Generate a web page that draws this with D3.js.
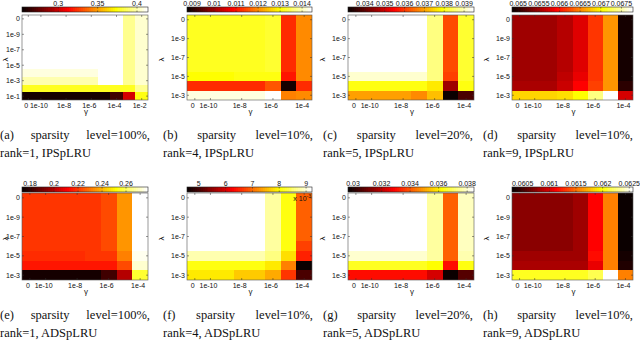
<!DOCTYPE html>
<html>
<head>
<meta charset="utf-8">
<script src="https://cdn.jsdelivr.net/npm/d3@7"></script>
<style>
body { margin: 0; background: #fff; }
svg { display: block; }
.lbl { font-family: "Liberation Sans", Arial, sans-serif; font-size: 7px; fill: #111; }
.cap { font-family: "Liberation Serif", "Times New Roman", serif; font-size: 12.5px; fill: #111; }
</style>
</head>
<body>
<svg id="chart" width="640" height="344"></svg>
<script>
// categories (gamma along x, lambda along y)
var gammaLong = ["0", "1e-10", "1e-9", "1e-8", "1e-7", "1e-6", "1e-5", "1e-4", "1e-3", "1e-2"];
var gammaShort = ["0", "1e-10", "1e-9", "1e-8", "1e-7", "1e-6", "1e-5", "1e-4"];
var lambdaLong = ["0", "1e-10", "1e-9", "1e-8", "1e-7", "1e-6", "1e-5", "1e-4", "1e-3", "1e-2", "1e-1"];
var lambdaShort = ["0", "1e-10", "1e-9", "1e-8", "1e-7", "1e-6", "1e-5", "1e-4", "1e-3"];

// tick labels
var xTicksLong = ["0", "1e-10", "1e-8", "1e-6", "1e-4", "1e-2"];
var xTicksShort = ["0", "1e-10", "1e-8", "1e-6", "1e-4"];
var yTicksLong = ["0", "1e-9", "1e-7", "1e-5", "1e-3", "1e-1"];
var yTicksShort = ["0", "1e-9", "1e-7", "1e-5", "1e-3"];

// colour limits and colourbar ticks
var climA = [0.254, 0.414], cbTicksA = [0.3, 0.35, 0.4];
var climB = [0.00877, 0.01445], cbTicksB = [0.009, 0.01, 0.011, 0.012, 0.013, 0.014];
var climC = [0.03315, 0.0395], cbTicksC = [0.034, 0.035, 0.036, 0.037, 0.038, 0.039];
var climD = [0.06485, 0.06778], cbTicksD = [0.065, 0.0655, 0.066, 0.0665, 0.067, 0.0675];
var climE = [0.1733, 0.2783], cbTicksE = [0.18, 0.2, 0.22, 0.24, 0.26];
var climF = [0.00456, 0.00922], cbTicksF = [0.005, 0.006, 0.007, 0.008, 0.009];
var climG = [0.02965, 0.03848], cbTicksG = [0.03, 0.032, 0.034, 0.036, 0.038];
var climH = [0.0603, 0.06257], cbTicksH = [0.0605, 0.061, 0.0615, 0.062, 0.0625];

// values, one row per lambda, one column per gamma
var valsA = [
  [0.414, 0.414, 0.414, 0.414, 0.414, 0.414, 0.414, 0.414, 0.395, 0.406],
  [0.414, 0.414, 0.414, 0.414, 0.414, 0.414, 0.414, 0.414, 0.395, 0.406],
  [0.414, 0.414, 0.414, 0.414, 0.414, 0.414, 0.414, 0.414, 0.395, 0.406],
  [0.414, 0.414, 0.414, 0.414, 0.414, 0.414, 0.414, 0.414, 0.395, 0.406],
  [0.414, 0.414, 0.414, 0.414, 0.414, 0.414, 0.414, 0.414, 0.395, 0.406],
  [0.414, 0.414, 0.414, 0.414, 0.414, 0.414, 0.414, 0.414, 0.395, 0.406],
  [0.413, 0.413, 0.413, 0.413, 0.413, 0.413, 0.414, 0.414, 0.395, 0.406],
  [0.409, 0.409, 0.409, 0.409, 0.409, 0.409, 0.414, 0.414, 0.395, 0.406],
  [0.401, 0.401, 0.401, 0.401, 0.401, 0.401, 0.414, 0.414, 0.395, 0.406],
  [0.379, 0.379, 0.379, 0.379, 0.379, 0.379, 0.379, 0.379, 0.379, 0.395],
  [0.257, 0.257, 0.257, 0.257, 0.257, 0.257, 0.257, 0.267, 0.302, 0.377]
];
var valsB = [
  [0.0132, 0.0132, 0.0132, 0.0132, 0.0132, 0.0133, 0.0112, 0.0120],
  [0.0132, 0.0132, 0.0132, 0.0132, 0.0132, 0.0133, 0.0112, 0.0120],
  [0.0132, 0.0132, 0.0132, 0.0132, 0.0132, 0.0133, 0.0112, 0.0120],
  [0.0132, 0.0132, 0.0132, 0.0132, 0.0132, 0.0133, 0.0112, 0.0120],
  [0.0132, 0.0132, 0.0132, 0.0132, 0.0132, 0.0133, 0.0112, 0.0120],
  [0.0132, 0.0132, 0.0132, 0.0132, 0.0132, 0.0133, 0.0112, 0.0120],
  [0.0130, 0.0130, 0.0130, 0.0131, 0.0131, 0.0131, 0.0110, 0.0120],
  [0.0112, 0.0112, 0.0112, 0.0112, 0.0112, 0.0116, 0.0089, 0.0112],
  [0.0143, 0.0143, 0.0143, 0.0143, 0.0143, 0.01445, 0.0119, 0.0120]
];
var valsC = [
  [0.0395, 0.0395, 0.0395, 0.0395, 0.0395, 0.0387, 0.0362, 0.0382],
  [0.0395, 0.0395, 0.0395, 0.0395, 0.0395, 0.0387, 0.0362, 0.0382],
  [0.0395, 0.0395, 0.0395, 0.0395, 0.0395, 0.0387, 0.0362, 0.0382],
  [0.0395, 0.0395, 0.0395, 0.0395, 0.0395, 0.0387, 0.0362, 0.0382],
  [0.0395, 0.0395, 0.0395, 0.0395, 0.0395, 0.0387, 0.0362, 0.0382],
  [0.0395, 0.0395, 0.0395, 0.0395, 0.0395, 0.0387, 0.0362, 0.0382],
  [0.0392, 0.0392, 0.0392, 0.0392, 0.0392, 0.0387, 0.0361, 0.0382],
  [0.0380, 0.0380, 0.0380, 0.0380, 0.0380, 0.0377, 0.0346, 0.0380],
  [0.0370, 0.0370, 0.0370, 0.0370, 0.0368, 0.0373, 0.0332, 0.0338]
];
var valsD = [
  [0.06549, 0.06549, 0.06549, 0.06561, 0.06579, 0.06617, 0.06655, 0.06491],
  [0.06549, 0.06549, 0.06549, 0.06561, 0.06579, 0.06617, 0.06655, 0.06491],
  [0.06549, 0.06549, 0.06549, 0.06561, 0.06579, 0.06617, 0.06655, 0.06491],
  [0.06549, 0.06549, 0.06549, 0.06561, 0.06579, 0.06617, 0.06655, 0.06491],
  [0.06549, 0.06549, 0.06549, 0.06561, 0.06579, 0.06617, 0.06655, 0.06491],
  [0.06549, 0.06549, 0.06549, 0.06561, 0.06579, 0.06617, 0.06655, 0.06491],
  [0.06552, 0.06552, 0.06552, 0.06564, 0.06582, 0.06617, 0.06655, 0.06491],
  [0.06555, 0.06555, 0.06555, 0.06567, 0.06590, 0.06620, 0.06655, 0.06500],
  [0.06684, 0.06684, 0.06684, 0.06690, 0.06702, 0.06743, 0.06778, 0.06573]
];
var valsE = [
  [0.2206, 0.2206, 0.2206, 0.2206, 0.2206, 0.2227, 0.2342, 0.2783],
  [0.2206, 0.2206, 0.2206, 0.2206, 0.2206, 0.2227, 0.2342, 0.2783],
  [0.2206, 0.2206, 0.2206, 0.2206, 0.2206, 0.2227, 0.2342, 0.2783],
  [0.2206, 0.2206, 0.2206, 0.2206, 0.2206, 0.2227, 0.2342, 0.2783],
  [0.2206, 0.2206, 0.2206, 0.2206, 0.2206, 0.2227, 0.2342, 0.2783],
  [0.2206, 0.2206, 0.2206, 0.2206, 0.2206, 0.2227, 0.2342, 0.2783],
  [0.2185, 0.2185, 0.2185, 0.2185, 0.2195, 0.2195, 0.2321, 0.2762],
  [0.2153, 0.2153, 0.2153, 0.2153, 0.2153, 0.2153, 0.2237, 0.2731],
  [0.1754, 0.1754, 0.1754, 0.1754, 0.1754, 0.1817, 0.1996, 0.2573]
];
var valsF = [
  [0.00922, 0.00922, 0.00922, 0.00922, 0.00922, 0.00875, 0.00810, 0.00689],
  [0.00922, 0.00922, 0.00922, 0.00922, 0.00922, 0.00875, 0.00810, 0.00689],
  [0.00922, 0.00922, 0.00922, 0.00922, 0.00922, 0.00875, 0.00810, 0.00689],
  [0.00922, 0.00922, 0.00922, 0.00922, 0.00922, 0.00875, 0.00810, 0.00689],
  [0.00922, 0.00922, 0.00922, 0.00922, 0.00922, 0.00875, 0.00810, 0.00689],
  [0.00922, 0.00922, 0.00922, 0.00922, 0.00922, 0.00875, 0.00810, 0.00670],
  [0.00885, 0.00885, 0.00885, 0.00885, 0.00885, 0.00866, 0.00782, 0.00650],
  [0.00810, 0.00810, 0.00810, 0.00810, 0.00810, 0.00792, 0.00712, 0.00456],
  [0.00792, 0.00792, 0.00792, 0.00764, 0.00764, 0.00745, 0.00666, 0.00503]
];
var valsG = [
  [0.0385, 0.0385, 0.0385, 0.0385, 0.0385, 0.0376, 0.0342, 0.0379],
  [0.0385, 0.0385, 0.0385, 0.0385, 0.0385, 0.0376, 0.0342, 0.0379],
  [0.0385, 0.0385, 0.0385, 0.0385, 0.0385, 0.0376, 0.0342, 0.0379],
  [0.0385, 0.0385, 0.0385, 0.0385, 0.0385, 0.0376, 0.0342, 0.0379],
  [0.0385, 0.0385, 0.0385, 0.0385, 0.0385, 0.0376, 0.0342, 0.0379],
  [0.0385, 0.0385, 0.0385, 0.0385, 0.0385, 0.0376, 0.0342, 0.0379],
  [0.0381, 0.0381, 0.0381, 0.0381, 0.0381, 0.0376, 0.0342, 0.0378],
  [0.0365, 0.0365, 0.0365, 0.0365, 0.0365, 0.0363, 0.0330, 0.0364],
  [0.0330, 0.0330, 0.0330, 0.0330, 0.0330, 0.0323, 0.02965, 0.0307]
];
var valsH = [
  [0.06075, 0.06075, 0.06075, 0.06075, 0.06080, 0.06114, 0.06157, 0.06030],
  [0.06075, 0.06075, 0.06075, 0.06075, 0.06080, 0.06114, 0.06157, 0.06030],
  [0.06075, 0.06075, 0.06075, 0.06075, 0.06080, 0.06114, 0.06157, 0.06030],
  [0.06075, 0.06075, 0.06075, 0.06075, 0.06080, 0.06114, 0.06157, 0.06030],
  [0.06075, 0.06075, 0.06075, 0.06075, 0.06080, 0.06114, 0.06157, 0.06030],
  [0.06075, 0.06075, 0.06075, 0.06075, 0.06080, 0.06114, 0.06157, 0.06030],
  [0.06080, 0.06080, 0.06080, 0.06080, 0.06080, 0.06116, 0.06157, 0.06035],
  [0.06084, 0.06084, 0.06084, 0.06084, 0.06084, 0.06105, 0.06157, 0.06039],
  [0.06207, 0.06207, 0.06207, 0.06207, 0.06207, 0.06216, 0.06257, 0.06155]
];

// captions
var capLine1 = ["(a) sparsity level=100%,", "(b) sparsity level=10%,", "(c) sparsity level=20%,", "(d) sparsity level=10%,",
                "(e) sparsity level=100%,", "(f) sparsity level=10%,", "(g) sparsity level=20%,", "(h) sparsity level=10%,"];
var capLine2 = ["rank=1, IPSpLRU", "rank=4, IPSpLRU", "rank=5, IPSpLRU", "rank=9, IPSpLRU",
                "rank=1, ADSpLRU", "rank=4, ADSpLRU", "rank=5, ADSpLRU", "rank=9, ADSpLRU"];

var svg = d3.select("#chart");

// matlab style "hot" map, 64 steps
function hot(t) {
	t = Math.max(0, Math.min(1, t));
	var i = Math.round(t * 63) + 1;
	var r = Math.min(1, i / 24),
		g = Math.max(0, Math.min(1, (i - 24) / 24)),
		b = Math.max(0, Math.min(1, (i - 48) / 16));
	return d3.rgb(r * 255, g * 255, b * 255).formatHex();
}

// layout of the grid of panels
var colX = [[22, 148], [187, 312], [348, 474], [512, 633]];
var capX = [0, 163, 323, 483];
var capW = 150;
var rowsY = [
	{ cb: [7, 12], plot: [15, 100], xlab: 107.5, gam: 114, cap1: 139, cap2: 157 },
	{ cb: [187, 192], plot: [193, 280], xlab: 287.5, gam: 294, cap1: 319, cap2: 337 }
];

var panels = [
	{ vals: valsA, gam: gammaLong, lam: lambdaLong, xt: xTicksLong, yt: yTicksLong, clim: climA, cbt: cbTicksA },
	{ vals: valsB, gam: gammaShort, lam: lambdaShort, xt: xTicksShort, yt: yTicksShort, clim: climB, cbt: cbTicksB },
	{ vals: valsC, gam: gammaShort, lam: lambdaShort, xt: xTicksShort, yt: yTicksShort, clim: climC, cbt: cbTicksC },
	{ vals: valsD, gam: gammaShort, lam: lambdaShort, xt: xTicksShort, yt: yTicksShort, clim: climD, cbt: cbTicksD },
	{ vals: valsE, gam: gammaShort, lam: lambdaShort, xt: xTicksShort, yt: yTicksShort, clim: climE, cbt: cbTicksE },
	{ vals: valsF, gam: gammaShort, lam: lambdaShort, xt: xTicksShort, yt: yTicksShort, clim: climF, cbt: cbTicksF, scale: 1000 },
	{ vals: valsG, gam: gammaShort, lam: lambdaShort, xt: xTicksShort, yt: yTicksShort, clim: climG, cbt: cbTicksG },
	{ vals: valsH, gam: gammaShort, lam: lambdaShort, xt: xTicksShort, yt: yTicksShort, clim: climH, cbt: cbTicksH }
];

panels.forEach(function(p, k) {
	var col = k % 4, row = Math.floor(k / 4);
	var L = rowsY[row];
	var x0 = colX[col][0], x1 = colX[col][1];
	var g = svg.append("g");

	var x = d3.scaleBand().domain(p.gam).range([x0, x1]);
	var y = d3.scaleBand().domain(p.lam).range([L.plot[0], L.plot[1]]);
	var c = d3.scaleLinear().domain(p.clim).range([0, 1]);

	// cells
	var cells = [];
	p.vals.forEach(function(r, i) {
		r.forEach(function(v, j) { cells.push({ lam: p.lam[i], gam: p.gam[j], v: v }); });
	});
	g.selectAll("rect.cell").data(cells).enter()
		.append("rect")
		.attr("class", "cell")
		.attr("x", d => x(d.gam))
		.attr("y", d => y(d.lam))
		.attr("width", x.bandwidth() + 0.3)
		.attr("height", y.bandwidth() + 0.3)
		.attr("fill", d => hot(c(d.v)))
		.attr("shape-rendering", "crispEdges");

	// frame + ticks
	g.append("rect")
		.attr("x", x0).attr("y", L.plot[0])
		.attr("width", x1 - x0).attr("height", L.plot[1] - L.plot[0])
		.attr("fill", "none").attr("stroke", "#555").attr("stroke-width", 0.6);

	var xc = d => x(d) + x.bandwidth() / 2;
	var yc = d => y(d) + y.bandwidth() / 2;
	p.xt.forEach(function(t) {
		g.append("line").attr("x1", xc(t)).attr("x2", xc(t)).attr("y1", L.plot[1]).attr("y2", L.plot[1] - 2)
			.attr("stroke", "#333").attr("stroke-width", 0.5);
		g.append("line").attr("x1", xc(t)).attr("x2", xc(t)).attr("y1", L.plot[0]).attr("y2", L.plot[0] + 2)
			.attr("stroke", "#333").attr("stroke-width", 0.5);
	});
	p.yt.forEach(function(t) {
		g.append("line").attr("x1", x0).attr("x2", x0 + 2).attr("y1", yc(t)).attr("y2", yc(t))
			.attr("stroke", "#333").attr("stroke-width", 0.5);
		g.append("line").attr("x1", x1).attr("x2", x1 - 2).attr("y1", yc(t)).attr("y2", yc(t))
			.attr("stroke", "#333").attr("stroke-width", 0.5);
	});

	g.selectAll("text.xt").data(p.xt).enter()
		.append("text").attr("class", "lbl")
		.attr("x", d => xc(d) - 2).attr("y", L.xlab)
		.attr("text-anchor", "middle")
		.text(d => d);
	g.selectAll("text.yt").data(p.yt).enter()
		.append("text").attr("class", "lbl")
		.attr("x", x0 - 2).attr("y", d => yc(d) + 2.5)
		.attr("text-anchor", "end")
		.text(d => d);

	g.append("text").attr("class", "lbl")
		.attr("x", (x0 + x1) / 2 + 1).attr("y", L.gam)
		.attr("text-anchor", "middle")
		.style("font-size", "8px")
		.text("γ");
	var ly = (L.plot[0] + L.plot[1]) / 2 + 2;
	var lx = Math.max(x0 - 23, 8);
	g.append("text").attr("class", "lbl")
		.attr("transform", "translate(" + lx + "," + ly + ") rotate(-90)")
		.attr("text-anchor", "middle")
		.style("font-size", "8px")
		.text("λ");

	// colourbar
	var cx = d3.scaleLinear().domain(p.clim).range([x0, x1]);
	var steps = d3.range(64);
	var sw = (x1 - x0) / 64;
	g.selectAll("rect.cb").data(steps).enter()
		.append("rect")
		.attr("x", d => x0 + d * sw)
		.attr("y", L.cb[0])
		.attr("width", sw + 0.3)
		.attr("height", L.cb[1] - L.cb[0])
		.attr("fill", d => hot(d / 63))
		.attr("shape-rendering", "crispEdges");
	g.append("rect")
		.attr("x", x0).attr("y", L.cb[0])
		.attr("width", x1 - x0).attr("height", L.cb[1] - L.cb[0])
		.attr("fill", "none").attr("stroke", "#222").attr("stroke-width", 0.6);
	p.cbt.forEach(function(t) {
		g.append("line").attr("x1", cx(t)).attr("x2", cx(t)).attr("y1", L.cb[0]).attr("y2", L.cb[0] + 1.5)
			.attr("stroke", "#222").attr("stroke-width", 0.5);
		g.append("line").attr("x1", cx(t)).attr("x2", cx(t)).attr("y1", L.cb[1]).attr("y2", L.cb[1] - 1.5)
			.attr("stroke", "#222").attr("stroke-width", 0.5);
	});
	g.selectAll("text.cbt").data(p.cbt).enter()
		.append("text").attr("class", "lbl")
		.attr("x", d => cx(d)).attr("y", L.cb[0] - 1.5)
		.attr("text-anchor", "middle")
		.text(d => p.scale ? String(Math.round(d * p.scale)) : String(d));

	if (p.scale) {
		var ex = g.append("text").attr("class", "lbl")
			.attr("x", x1 - 1).attr("y", L.plot[0] + 8)
			.attr("text-anchor", "end");
		ex.append("tspan").text("x 10");
		ex.append("tspan").attr("dy", -3).style("font-size", "5px").text("-3");
	}

	// caption, first line justified
	var words = capLine1[k].split(" ");
	var cx0 = capX[col];
	var ws = words.map(function(w) {
		return g.append("text").attr("class", "cap").attr("y", L.cap1).text(w);
	});
	var widths = ws.map(t => t.node().getComputedTextLength());
	var gap = (capW - d3.sum(widths)) / (words.length - 1);
	var pos = cx0;
	ws.forEach(function(t, i) {
		t.attr("x", pos);
		pos += widths[i] + gap;
	});
	g.append("text").attr("class", "cap")
		.attr("x", cx0).attr("y", L.cap2)
		.text(capLine2[k]);
});
</script>
</body>
</html>
